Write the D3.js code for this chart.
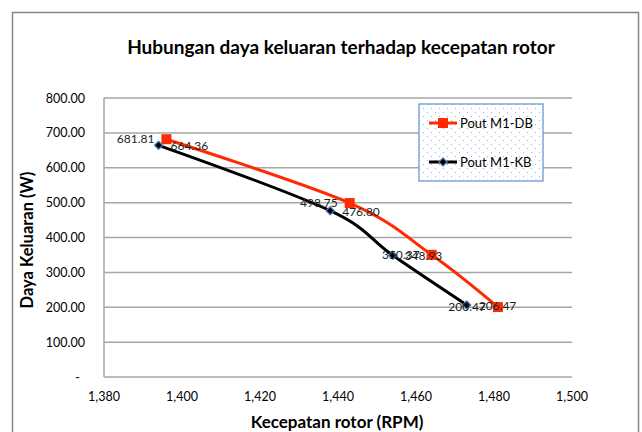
<!DOCTYPE html>
<html lang="en">
<head>
  <meta charset="UTF-8">
  <title>Hubungan daya keluaran terhadap kecepatan rotor</title>
  <script src="https://d3js.org/d3.v7.min.js"></script>
  <style>
    body { background: #fff; margin: 0; }
    svg { display: block; }
    text { font-family: Lato, "Open Sans", sans-serif; fill: #000; }
    .grid { stroke: #a6a6a6; stroke-width: 1.5; }
    .tick-label { font-size: 12.5px; }
    .val-label { font-size: 12px; fill: #222; }
  </style>
</head>
<body>
  <svg width="642" height="432"></svg>

  <script>
// data
const rpmDB = [1396, 1443, 1464, 1481];
const powerDB = [681.81, 498.75, 350.37, 200.47];
const rpmKB = [1394, 1438, 1454, 1473];
const powerKB = [664.36, 476.80, 348.93, 206.47];
const seriesNames = ["Pout M1-DB", "Pout M1-KB"];
const xTicks = [1380, 1400, 1420, 1440, 1460, 1480, 1500];
const yTicks = [0, 100, 200, 300, 400, 500, 600, 700, 800];

const svg = d3.select("svg");
const plotL = 104, plotR = 572, plotT = 98, plotB = 377;

const x = d3.scaleLinear().domain([1380, 1500]).range([plotL, plotR]);
const y = d3.scaleLinear().domain([0, 800]).range([plotB, plotT]);

// outer chart border
svg.append("rect")
  .attr("x", 12.5).attr("y", 12.5)
  .attr("width", 626).attr("height", 440)
  .attr("fill", "#fff")
  .attr("stroke", "#868686")
  .attr("stroke-width", 1.5);

// title
svg.append("text")
  .attr("x", 341).attr("y", 54)
  .attr("text-anchor", "middle")
  .style("font-size", "19px")
  .style("font-weight", "bold")
  .text("Hubungan daya keluaran terhadap kecepatan rotor");

// gridlines
svg.selectAll(".grid")
  .data(yTicks.slice(1))
  .enter()
  .append("line")
  .attr("class", "grid")
  .attr("x1", plotL).attr("x2", plotR)
  .attr("y1", d => y(d)).attr("y2", d => y(d));

// axes lines
svg.append("line").attr("class", "grid")
  .attr("x1", plotL).attr("x2", plotR)
  .attr("y1", plotB).attr("y2", plotB);
svg.append("line").attr("class", "grid")
  .attr("x1", plotL).attr("x2", plotL)
  .attr("y1", plotT).attr("y2", plotB);

// y tick labels
svg.selectAll(".ylab")
  .data(yTicks)
  .enter()
  .append("text")
  .attr("class", "tick-label")
  .attr("x", d => d === 0 ? 80 : 85)
  .attr("y", d => y(d) + 4.5)
  .attr("text-anchor", "end")
  .text(d => d === 0 ? "-" : d3.format(".2f")(d));

// x tick labels
svg.selectAll(".xlab")
  .data(xTicks)
  .enter()
  .append("text")
  .attr("class", "tick-label")
  .attr("x", d => x(d))
  .attr("y", 401)
  .attr("text-anchor", "middle")
  .text(d => d3.format(",")(d));

// axis titles
svg.append("text")
  .attr("x", 337).attr("y", 428)
  .attr("text-anchor", "middle")
  .style("font-size", "17px")
  .style("font-weight", "bold")
  .text("Kecepatan rotor (RPM)");

svg.append("text")
  .attr("transform", "translate(33,240) rotate(-90)")
  .attr("text-anchor", "middle")
  .style("font-size", "16.5px")
  .style("font-weight", "bold")
  .text("Daya Keluaran (W)");

const line = d3.line()
  .x(d => x(d[0]))
  .y(d => y(d[1]))
  .curve(d3.curveCardinal.tension(0));

const ptsDB = rpmDB.map((r, i) => [r, powerDB[i]]);
const ptsKB = rpmKB.map((r, i) => [r, powerKB[i]]);

svg.append("path")
  .datum(ptsDB)
  .attr("d", line)
  .attr("fill", "none")
  .attr("stroke", "#ff2a00")
  .attr("stroke-width", 3);

svg.append("path")
  .datum(ptsKB)
  .attr("d", line)
  .attr("fill", "none")
  .attr("stroke", "#000")
  .attr("stroke-width", 3);

// markers
svg.selectAll(".sq")
  .data(ptsDB)
  .enter()
  .append("rect")
  .attr("x", d => x(d[0]) - 5)
  .attr("y", d => y(d[1]) - 5)
  .attr("width", 10).attr("height", 10)
  .attr("fill", "#ff2a00");

const diamond = d3.symbol().type(d3.symbolSquare).size(34);
svg.selectAll(".dia")
  .data(ptsKB)
  .enter()
  .append("path")
  .attr("d", diamond)
  .attr("transform", d => `translate(${x(d[0])},${y(d[1])}) rotate(45)`)
  .attr("fill", "#000")
  .attr("stroke", "#4f81bd")
  .attr("stroke-width", 1.2);

// value labels: DB on the left, KB on the right
svg.selectAll(".lblDB")
  .data(ptsDB)
  .enter()
  .append("text")
  .attr("class", "val-label")
  .attr("x", d => x(d[0]) - 12)
  .attr("y", d => y(d[1]) + 4)
  .attr("text-anchor", "end")
  .text(d => d[1].toFixed(2));

svg.selectAll(".lblKB")
  .data(ptsKB)
  .enter()
  .append("text")
  .attr("class", "val-label")
  .attr("x", d => x(d[0]) + 12)
  .attr("y", d => y(d[1]) + 5)
  .text(d => d[1].toFixed(2));

// legend with dotted fill
const defs = svg.append("defs");
const pat = defs.append("pattern")
  .attr("id", "dots")
  .attr("patternUnits", "userSpaceOnUse")
  .attr("width", 8).attr("height", 8);
pat.append("rect").attr("width", 8).attr("height", 8).attr("fill", "#fff");
pat.append("rect").attr("x", 0).attr("y", 0).attr("width", 1).attr("height", 1).attr("fill", "#8fb4e3");
pat.append("rect").attr("x", 4).attr("y", 4).attr("width", 1).attr("height", 1).attr("fill", "#8fb4e3");

const lg = svg.append("g").attr("transform", "translate(419,104)");
lg.append("rect")
  .attr("width", 124).attr("height", 77)
  .attr("fill", "url(#dots)")
  .attr("stroke", "#7ea6d8")
  .attr("stroke-width", 1.5);

seriesNames.forEach((name, i) => {
  const ly = 19 + i * 39;
  lg.append("line")
    .attr("x1", 10).attr("x2", 38)
    .attr("y1", ly).attr("y2", ly)
    .attr("stroke", i === 0 ? "#ff2a00" : "#000")
    .attr("stroke-width", 3);
  if (i === 0) {
    lg.append("rect")
      .attr("x", 19).attr("y", ly - 5)
      .attr("width", 10).attr("height", 10)
      .attr("fill", "#ff2a00");
  } else {
    lg.append("path")
      .attr("d", diamond)
      .attr("transform", `translate(24,${ly}) rotate(45)`)
      .attr("fill", "#000")
      .attr("stroke", "#4f81bd")
      .attr("stroke-width", 1.2);
  }
  lg.append("text")
    .attr("x", 41).attr("y", ly + 5)
    .style("font-size", "13px")
    .text(name);
});
  </script>
</body>
</html>
